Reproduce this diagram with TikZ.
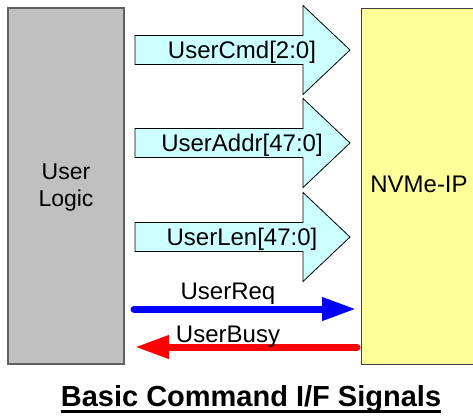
\documentclass[tikz,border=0pt]{standalone}
\usepackage{fontspec}
\setmainfont{Liberation Sans}
\usetikzlibrary{arrows.meta}
\definecolor{ulgray}{HTML}{C0C0C0}
\definecolor{ulborder}{HTML}{606060}
\definecolor{ipyellow}{HTML}{FFFF99}
\definecolor{fatcyan}{HTML}{CCFFFF}
\tikzset{
  blockbox/.style={draw, rectangle, inner sep=0pt},
  fatarrow/.style={draw=black, fill=fatcyan, line width=0.8pt, line join=miter},
  sig/.style={font=\fontsize{24}{28}\selectfont, inner sep=0pt, anchor=base},
  wire/.style={line width=7pt, line cap=round, -{Triangle[length=34pt,width=22pt]}},
}
\begin{document}
\begin{tikzpicture}[x=1pt,y=-1pt]
\clip (0,0) rectangle (473,416);
\fill[white] (0,0) rectangle (473,416);
% blocks
\node[blockbox, fill=ulgray, draw=ulborder, line width=1.5pt, minimum width=116pt, minimum height=356pt] (ul) at (66,186) {};
\node[font=\fontsize{23}{27}\selectfont, align=center, inner sep=0pt] (ultext) at (66,187) {User\\Logic};
\node[blockbox, fill=ipyellow, draw=black!75, line width=1pt, minimum width=122pt, minimum height=356pt] (ip) at (422,186) {};
\node[font=\fontsize{24}{28}\selectfont, inner sep=0pt] (iptext) at (419,184) {NVMe-IP};
% fat arrows
\foreach \cy/\nm in {50/a1, 143/a2, 237/a3}{
  \draw[fatarrow] (135,\cy-14.5) -- (303,\cy-14.5) -- (303,\cy-44.5) -- (350,\cy)
     -- (303,\cy+44.5) -- (303,\cy+14.5) -- (135,\cy+14.5) -- cycle;
  \coordinate (\nm) at (242,\cy+8.6);
}
\node[sig] (t1) at (a1) {UserCmd[2:0]};
\node[sig] (t2) at (a2) {UserAddr[47:0]};
\node[sig] (t3) at (a3) {UserLen[47:0]};
% thin signals
\coordinate (reqs) at (134,309);
\coordinate (reqe) at (356,309);
\coordinate (busys) at (357,347);
\coordinate (busye) at (135,347);
\draw[wire, blue] (reqs) -- (reqe);
\draw[wire, red] (busys) -- (busye);
\node[sig] (treq) at (228,299) {UserReq};
\node[sig] (tbusy) at (228,342) {UserBusy};
% title
\node[sig, font=\fontsize{29}{32}\selectfont\bfseries] (title) at (251,406) {Basic Command I/F Signals};
\draw[line width=2.5pt] ([yshift=-5.5pt]title.base west) -- ([yshift=-5.5pt]title.base east);
\end{tikzpicture}
\end{document}
